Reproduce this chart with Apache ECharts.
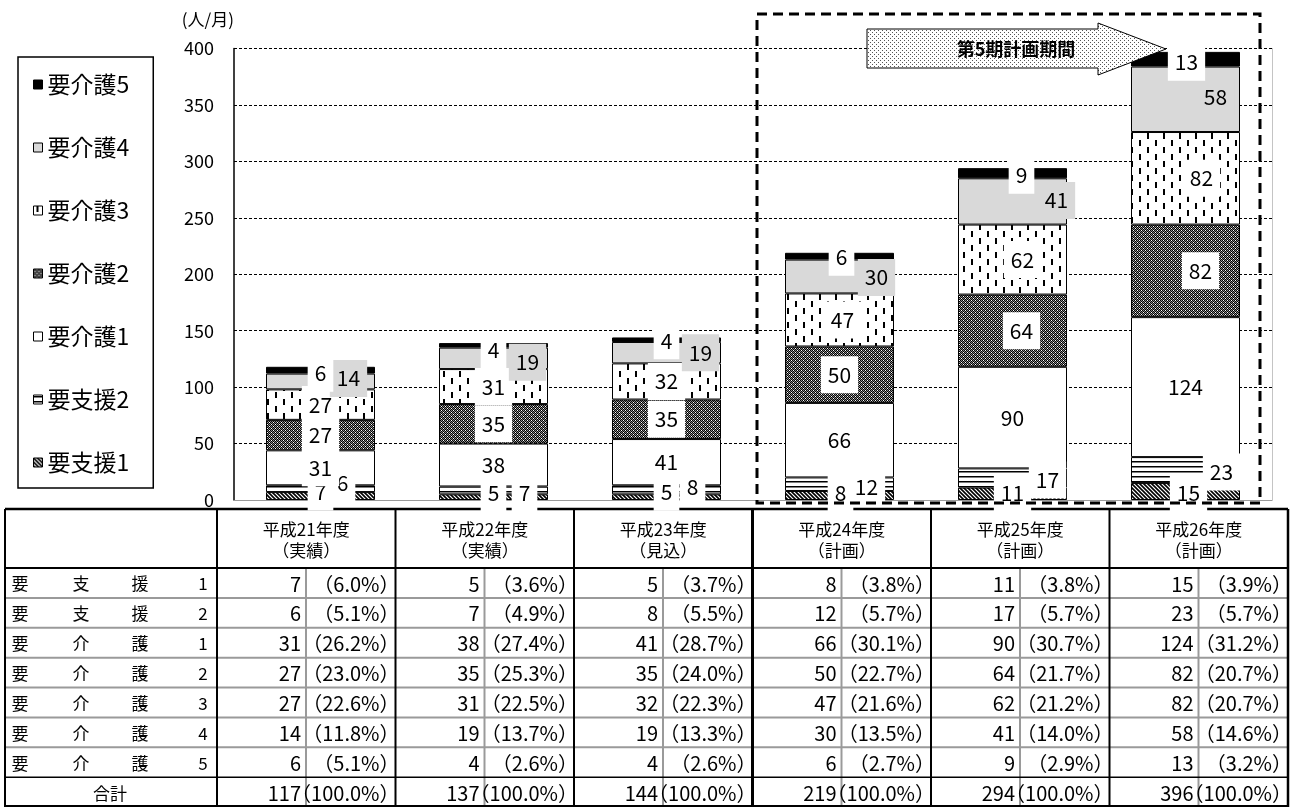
<!DOCTYPE html>
<html>
<head>
<meta charset="utf-8">
<script src="https://cdn.jsdelivr.net/npm/echarts@6/dist/echarts.min.js"></script>
<style>
  html, body { margin: 0; padding: 0; background: #fff; }
  #chart { width: 1293px; height: 807px; }
</style>
</head>
<body>
<div id="chart"></div>
<script>
// ---- data ----
const years = ['平成21年度', '平成22年度', '平成23年度', '平成24年度', '平成25年度', '平成26年度'];
const yearNotes = ['（実績）', '（実績）', '（見込）', '（計画）', '（計画）', '（計画）'];
const levels = ['要支援1', '要支援2', '要介護1', '要介護2', '要介護3', '要介護4', '要介護5'];

const support1 = [7, 5, 5, 8, 11, 15];
const support2 = [6, 7, 8, 12, 17, 23];
const care1 = [31, 38, 41, 66, 90, 124];
const care2 = [27, 35, 35, 50, 64, 82];
const care3 = [27, 31, 32, 47, 62, 82];
const care4 = [14, 19, 19, 30, 41, 58];
const care5 = [6, 4, 4, 6, 9, 13];
const totals = [117, 137, 144, 219, 294, 396];

// shares (%) as listed in the table
const shareSupport1 = [6.0, 3.6, 3.7, 3.8, 3.8, 3.9];
const shareSupport2 = [5.1, 4.9, 5.5, 5.7, 5.7, 5.7];
const shareCare1 = [26.2, 27.4, 28.7, 30.1, 30.7, 31.2];
const shareCare2 = [23.0, 25.3, 24.0, 22.7, 21.7, 20.7];
const shareCare3 = [22.6, 22.5, 22.3, 21.6, 21.2, 20.7];
const shareCare4 = [11.8, 13.7, 13.3, 13.5, 14.0, 14.6];
const shareCare5 = [5.1, 2.6, 2.6, 2.7, 2.9, 3.2];
const shareTotal = 100.0;

const yMax = 400;
const yStep = 50;
const unitLabel = '(人/月)';
const periodLabel = '第5期計画期間';
const totalLabel = '合計';

const values = [support1, support2, care1, care2, care3, care4, care5];
const shares = [shareSupport1, shareSupport2, shareCare1, shareCare2, shareCare3, shareCare4, shareCare5];

// ---- styling ----
const F = '"Noto Sans CJK JP", "Noto Sans", sans-serif';

function tile(w, h, draw) {
  const c = document.createElement('canvas');
  c.width = w; c.height = h;
  const g = c.getContext('2d');
  g.fillStyle = '#fff';
  g.fillRect(0, 0, w, h);
  draw(g);
  return c;
}
function pattern(canvas) { return { image: canvas, repeat: 'repeat' }; }

const fillDiagonal = pattern(tile(4, 4, g => {
  g.strokeStyle = '#000'; g.lineWidth = 1.6;
  g.beginPath();
  g.moveTo(-1, -1); g.lineTo(5, 5);
  g.moveTo(-1, 3); g.lineTo(1, 5);
  g.moveTo(3, -1); g.lineTo(5, 1);
  g.stroke();
}));
const fillHorizontal = pattern(tile(4, 5, g => {
  g.fillStyle = '#000'; g.fillRect(0, 1, 4, 1.5);
}));
const fillTrellis = pattern(tile(4, 4, g => {
  const K = '#000', G = '#8a8a8a', W = '#fff';
  const m = [[K, G, K, W], [G, K, G, K], [K, W, K, G], [G, K, G, K]];
  for (let y = 0; y < 4; y++) for (let x = 0; x < 4; x++) { g.fillStyle = m[y][x]; g.fillRect(x, y, 1, 1); }
}));
const fillDashes = pattern(tile(16, 14, g => {
  g.fillStyle = '#000';
  g.fillRect(3, 0, 2, 6);
  g.fillRect(11, 7, 2, 6);
}));
const fillDots = pattern(tile(4, 4, g => {
  g.fillStyle = '#555';
  g.fillRect(0, 0, 1, 1);
  g.fillRect(2, 2, 1, 1);
}));

const fills = [fillDiagonal, fillHorizontal, '#fff', fillTrellis, fillDashes, '#d9d9d9', '#000'];
const labelBg = ['#fff', '#fff', '#fff', '#fff', '#fff', '#d9d9d9', '#fff'];

// label nudges per series / year (pixels)
const labelShift = [
  [[0, -4], [0, -4], [0, -5], [1, -2], [0, -1], [3, 1]],
  [[22, -6], [31, 3], [26, -3], [27, 3], [35, 2], [36, 2]],
  [[0, 0], [0, 0], [0, 0], [0, 0], [0, 0], [0, 0]],
  [[0, 0], [0, 0], [0, 0], [0, 0], [9, 0], [15, 0]],
  [[0, 0], [0, 0], [0, 0], [3, 0], [10, 0], [16, 0]],
  [[28, -3], [34, 4], [34, 0], [37, 1], [44, -1], [30, -2]],
  [[0, 3], [0, 5], [0, 1], [2, 1], [9, 2], [1, 3]]
];

const series = levels.map((name, k) => ({
  name,
  type: 'bar',
  stack: 'total',
  barWidth: 109,
  z: 2,
  data: values[k].map((v, i) => ({ value: v, label: { offset: labelShift[k][i] } })),
  itemStyle: { color: fills[k], borderColor: '#000', borderWidth: 1 },
  label: {
    show: true,
    position: 'inside',
    color: '#000',
    fontSize: 21,
    lineHeight: 21,
    fontFamily: F,
    backgroundColor: labelBg[k],
    padding: [8, 7, 8, 7]
  },
  emphasis: { disabled: true }
}));

// ---- table below the plot ----
const T = { left: 5, top: 509, head: 568, labelRight: 217, colW: 178.5, valueW: 89, rowH: 29.875, right: 1288, bottom: 807 };
const rowTop = r => T.head + r * T.rowH;
const colLeft = i => T.labelRight + i * T.colW;
const charX = [20, 81, 140, 203];

const table = [];
function hline(y, x1, x2, stroke, w) {
  table.push({ type: 'line', z: 1, silent: true, shape: { x1, y1: y, x2, y2: y }, style: { stroke, lineWidth: w } });
}
function vline(x, y1, y2, stroke, w) {
  table.push({ type: 'line', z: 1, silent: true, shape: { x1: x, y1, x2: x, y2 }, style: { stroke, lineWidth: w } });
}
function cellText(x, y, str, align, size) {
  table.push({
    type: 'text', z: 1, silent: true, x, y,
    style: { text: str, fill: '#000', fontSize: size, fontFamily: F, align, verticalAlign: 'middle', textAlign: align, textVerticalAlign: 'middle' }
  });
}

table.push({ type: 'rect', z: 1, silent: true, shape: { x: T.left, y: T.top, width: T.right - T.left, height: T.bottom - T.top }, style: { fill: '#fff' } });
for (let r = 1; r <= 6; r++) hline(rowTop(r), T.left, T.right, '#9a9a9a', 2);
for (let i = 0; i < years.length; i++) vline(colLeft(i) + T.valueW, T.head, T.bottom, '#9a9a9a', 2);
hline(rowTop(7), T.left, T.right, '#000', 1.5);
hline(T.head, T.left, T.right, '#000', 2);
hline(T.top, T.left, T.right, '#000', 2.5);
hline(T.bottom - 1, T.left, T.right, '#000', 2);
vline(T.left, T.top, T.bottom, '#000', 2);
vline(T.labelRight, T.top, T.bottom, '#000', 2);
for (let i = 1; i < years.length; i++) vline(colLeft(i), T.top, T.bottom, '#000', i === 3 ? 3 : 2);
vline(T.right, T.top, T.bottom, '#000', 2.5);

years.forEach((y, i) => {
  const cx = colLeft(i) + T.colW / 2;
  cellText(cx, 530, y, 'center', 17);
  cellText(cx, 551, yearNotes[i], 'center', 17);
});
const pct = s => '（' + s.toFixed(1) + '%）';
levels.forEach((name, k) => {
  const cy = rowTop(k) + T.rowH / 2 + 1;
  name.split('').forEach((ch, j) => cellText(charX[j], cy, ch, 'center', 17));
  values[k].forEach((v, i) => {
    cellText(colLeft(i) + T.valueW - 5, cy, String(v), 'right', 20);
    cellText(colLeft(i) + T.colW + 4, cy, pct(shares[k][i]), 'right', 20);
  });
});
{
  const cy = rowTop(7) + T.rowH / 2 + 1;
  cellText(110, cy, totalLabel, 'center', 17);
  totals.forEach((v, i) => {
    cellText(colLeft(i) + T.valueW - 5, cy, String(v), 'right', 20);
    cellText(colLeft(i) + T.colW + 4, cy, pct(shareTotal), 'right', 20);
  });
}

// ---- planning-period frame and arrow ----
const overlay = [
  {
    type: 'rect', z: 10, silent: true,
    shape: { x: 757, y: 14, width: 503, height: 489 },
    style: { fill: 'none', stroke: '#000', lineWidth: 3, lineDash: [10, 6] }
  },
  {
    type: 'polygon', z: 10, silent: true,
    shape: { points: [[867, 29], [1098, 29], [1098, 23], [1166, 49], [1098, 75], [1098, 68], [867, 68]] },
    style: { fill: fillDots, stroke: '#000', lineWidth: 1 }
  },
  {
    type: 'text', z: 11, silent: true, x: 1016, y: 49,
    style: { text: periodLabel, fill: '#000', fontSize: 18, fontWeight: 'bold', fontFamily: F, align: 'center', verticalAlign: 'middle', textAlign: 'center', textVerticalAlign: 'middle' }
  }
];

const chart = echarts.init(document.getElementById('chart'), null, { renderer: 'canvas' });
chart.setOption({
  animation: false,
  backgroundColor: '#fff',
  textStyle: { fontFamily: F },
  grid: { left: 234, right: 21, top: 48.5, bottom: 307, containLabel: false },
  legend: {
    orient: 'vertical',
    left: 18,
    top: 57,
    data: levels.slice().reverse(),
    icon: 'rect',
    itemWidth: 9,
    itemHeight: 9,
    itemGap: 40,
    padding: [16, 24, 14, 15],
    borderColor: '#000',
    borderWidth: 1.5,
    selectedMode: false,
    itemStyle: { borderColor: '#000', borderWidth: 1 },
    textStyle: { fontSize: 23, lineHeight: 20, color: '#000', fontFamily: F }
  },
  xAxis: {
    type: 'category',
    data: years,
    axisLabel: { show: false },
    axisTick: { show: false },
    axisLine: { show: true, lineStyle: { color: '#9a9a9a', width: 1 } },
    splitLine: { show: false }
  },
  yAxis: [
    {
      type: 'value',
      min: 0,
      max: yMax,
      interval: yStep,
      name: unitLabel,
      nameLocation: 'end',
      nameGap: 20,
      nameTextStyle: { fontSize: 17, color: '#000', fontFamily: F, align: 'right' },
      axisLine: { show: true, lineStyle: { color: '#000', width: 1.5 } },
      axisTick: { show: false },
      axisLabel: { fontSize: 18, color: '#000', margin: 20, padding: [8, 0, 0, 0], fontFamily: F },
      splitLine: { show: true, showMinLine: false, lineStyle: { color: '#000', width: 1, type: [3, 2] } }
    },
    {
      type: 'value',
      min: 0,
      max: yMax,
      interval: yStep,
      position: 'right',
      axisLine: { show: true, lineStyle: { color: '#c4c4c4', width: 1 } },
      axisTick: { show: false },
      axisLabel: { show: false },
      splitLine: { show: false }
    }
  ],
  series,
  graphic: { elements: table.concat(overlay) }
});
</script>
</body>
</html>
